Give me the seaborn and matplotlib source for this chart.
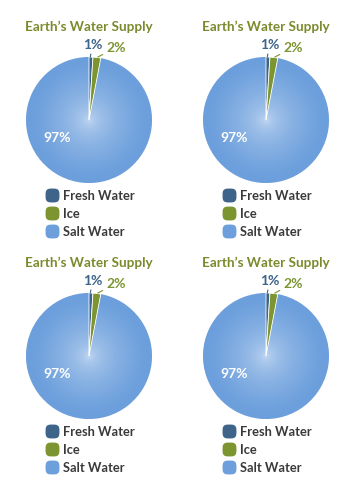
import numpy as np
import matplotlib
matplotlib.use("Agg")
import matplotlib.pyplot as plt
from matplotlib.lines import Line2D
from matplotlib.path import Path
import seaborn as sns

# ===== DATA =====
title = "Earth\u2019s Water Supply"
categories = ["Fresh Water", "Ice", "Salt Water"]
shares = [1, 2, 97]
share_labels = ["1%", "2%", "97%"]

# ===== STYLE =====
sns.set_theme(style="white")
plt.rcParams["font.family"] = ["Lato", "DejaVu Sans"]
colors = ["#3e6489", "#7c9530", "#6c9fdc"]
title_color = "#7a8a2c"
text_color = "#3a3a3a"

W, H = 354, 500
fig = plt.figure(figsize=(W / 100, H / 100), dpi=100)


def fx(x):
    return x / W


def fy(y):
    return 1 - y / H


# rounded-square marker for the legend
t = np.linspace(0, 2 * np.pi, 80)
sq = np.c_[np.sign(np.cos(t)) * np.abs(np.cos(t)) ** 0.6,
           np.sign(np.sin(t)) * np.abs(np.sin(t)) ** 0.6]
squircle = Path(sq, closed=True)

# radial gradient used for the salt water slice
g = np.linspace(-1, 1, 300)
gx, gy = np.meshgrid(g, g)
rr = np.clip(np.sqrt(gx ** 2 + gy ** 2), 0, 1)
light = np.array(matplotlib.colors.to_rgb("#cfe0f5"))
dark = np.array(matplotlib.colors.to_rgb(colors[2]))
mix = np.clip(rr / 0.9, 0, 1) ** 0.45
grad = light[None, None, :] * (1 - mix[..., None]) + dark[None, None, :] * mix[..., None]


def draw_panel(ox, oy):
    cx, cy, r = 89 + ox, 120 + oy, 63
    ax = fig.add_axes([fx(cx - r), fy(cy + r), 2 * r / W, 2 * r / H])
    wedges, _ = ax.pie(shares, colors=colors, startangle=90, counterclock=False,
                       wedgeprops=dict(edgecolor="white", linewidth=0.6))
    im = ax.imshow(grad, extent=[-1, 1, -1, 1], origin="lower", zorder=1.5)
    im.set_clip_path(wedges[2])
    wedges[2].set_zorder(1)
    for w in wedges[:2]:
        w.set_zorder(2)
    ax.set_xlim(-1, 1)
    ax.set_ylim(-1, 1)
    ax.set_aspect("auto")
    ax.axis("off")

    # slice labels
    ax.annotate(share_labels[0], xy=(0.02, 1.0), xytext=(0.06, 1.1),
                ha="center", va="bottom", fontsize=10, fontweight="bold",
                color=colors[0], annotation_clip=False,
                arrowprops=dict(arrowstyle="-", color=colors[0], lw=0.8,
                                shrinkA=0, shrinkB=0))
    ax.annotate(share_labels[1], xy=(0.14, 1.0), xytext=(0.27, 1.05),
                ha="left", va="bottom", fontsize=10, fontweight="bold",
                color=colors[1], annotation_clip=False,
                arrowprops=dict(arrowstyle="-", color=colors[1], lw=0.8,
                                shrinkA=0, shrinkB=0))
    ax.text(-0.5, -0.29, share_labels[2], ha="center", va="center",
            fontsize=10, fontweight="bold", color="white", zorder=5)

    fig.text(fx(89 + ox), fy(27 + oy), title, ha="center", va="center",
             fontsize=9.7, fontweight="bold", color=title_color)

    handles = [Line2D([], [], marker=squircle, linestyle="none", markersize=10,
                      markerfacecolor=c, markeredgecolor="none") for c in colors]
    fig.legend(handles, categories, loc="upper left",
               bbox_to_anchor=(fx(46 + ox), fy(190 + oy)), frameon=False,
               borderpad=0, borderaxespad=0, handlelength=1.0,
               handletextpad=0.3, labelspacing=0.45,
               labelcolor=text_color, prop=dict(weight="bold", size=9.3))


for ox, oy in [(0, 0), (177, 0), (0, 236), (177, 236)]:
    draw_panel(ox, oy)

fig.savefig("out.png", dpi=100)
